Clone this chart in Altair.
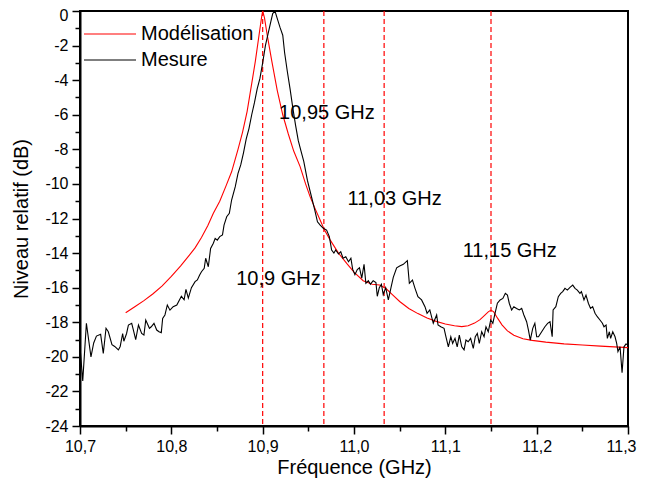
import altair as alt
import pandas as pd

# ---- measured spectrum (GHz, dB) ----
mes_f = [10.700, 10.703, 10.707, 10.712, 10.715, 10.718, 10.7226, 10.7255, 10.7285, 10.731,
         10.735, 10.738, 10.742, 10.744, 10.7467, 10.748, 10.751, 10.753, 10.7566, 10.758,
         10.761, 10.764, 10.7675, 10.770, 10.772, 10.776, 10.778, 10.781, 10.784, 10.7865,
         10.789, 10.7905, 10.793, 10.7956, 10.7985, 10.802, 10.806, 10.809, 10.811, 10.814,
         10.816, 10.8186, 10.822, 10.826, 10.8285, 10.831, 10.833, 10.836, 10.8376, 10.8405,
         10.843, 10.846, 10.848, 10.8503, 10.853, 10.856, 10.8577, 10.8606, 10.8635, 10.866,
         10.870, 10.873, 10.876, 10.879, 10.882, 10.885, 10.888, 10.891, 10.894, 10.897,
         10.900, 10.903, 10.906, 10.909, 10.911, 10.9135, 10.9155, 10.919, 10.922, 10.924,
         10.927, 10.930, 10.933, 10.936, 10.939, 10.942, 10.945, 10.949, 10.9537, 10.957,
         10.960, 10.963, 10.9664, 10.970, 10.973, 10.9755, 10.978, 10.980, 10.983, 10.9855,
         10.988, 10.991, 10.994, 10.9966, 10.9985, 11.001, 11.0036, 11.006, 11.0085, 11.011,
         11.013, 11.0157, 11.018, 11.021, 11.024, 11.0255, 11.0277, 11.030, 11.032, 11.0347,
         11.0376, 11.0405, 11.043, 11.0467, 11.050, 11.054, 11.0584, 11.0606, 11.064, 11.0668,
         11.070, 11.074, 11.0777, 11.080, 11.083, 11.0868, 11.0905, 11.092, 11.095, 11.0986,
         11.1007, 11.1033, 11.106, 11.108, 11.1106, 11.113, 11.1153, 11.118, 11.1205, 11.1226,
         11.125, 11.1277, 11.1306, 11.1328, 11.135, 11.1372, 11.1398, 11.1424, 11.1445, 11.147,
         11.1497, 11.152, 11.1544, 11.157, 11.160, 11.163, 11.1657, 11.168, 11.170, 11.1726,
         11.175, 11.178, 11.181, 11.1836, 11.186, 11.189, 11.191, 11.193, 11.1957, 11.198,
         11.200, 11.202, 11.2055, 11.209, 11.212, 11.2146, 11.217, 11.218, 11.221, 11.2237,
         11.2263, 11.2285, 11.231, 11.2336, 11.2365, 11.2395, 11.242, 11.2445, 11.2474, 11.249,
         11.2518, 11.254, 11.2566, 11.259, 11.2613, 11.2639, 11.2664, 11.2693, 11.272, 11.2737,
         11.276, 11.2774, 11.2796, 11.281, 11.2833, 11.2858, 11.2876, 11.289, 11.2913, 11.2935,
         11.2956, 11.2978, 11.300]
mes_db = [-19.4, -21.4, -18.06, -20.0, -19.2, -18.8, -18.7, -19.8, -18.35, -18.55,
          -19.3, -19.4, -19.6, -19.4, -18.65, -19.1, -18.65, -18.16, -18.06, -18.35,
          -19.0, -18.16, -18.65, -18.74, -17.87, -18.35, -18.26, -18.06, -18.45, -18.55,
          -18.6, -17.78, -17.58, -17.0, -17.3, -17.1, -17.0, -16.7, -16.5, -16.7,
          -16.1, -16.6, -16.0, -15.65, -15.55, -15.27, -15.08, -14.88, -14.3, -14.79,
          -13.73, -13.43, -13.15, -13.25, -13.05, -12.95, -12.38, -11.9, -11.7, -10.93,
          -10.16, -9.39, -8.9, -8.2, -7.4, -6.8, -6.0, -5.3, -4.5, -3.9,
          -3.0, -2.0, -1.3, -0.6, -0.15, 0.0, -0.35, -0.95, -1.4, -2.4,
          -3.5, -4.5, -5.6, -6.6, -7.5, -8.1, -8.7, -9.8, -10.8, -11.5,
          -12.19, -12.38, -12.57, -12.67, -13.05, -13.82, -14.0, -13.82, -14.05, -13.92,
          -14.3, -14.21, -14.5, -14.3, -14.93, -15.25, -14.95, -14.85, -15.45, -14.65,
          -15.75, -15.6, -15.8, -15.6, -15.7, -16.5, -16.0, -15.8, -16.4, -16.0,
          -16.7, -16.0, -15.4, -14.85, -14.75, -14.65, -14.44, -15.75, -15.56, -16.04,
          -16.52, -16.71, -17.1, -17.48, -17.29, -18.06, -17.58, -18.16, -18.26, -18.35,
          -18.84, -19.42, -18.84, -19.22, -18.93, -19.42, -18.74, -19.42, -19.6, -19.03,
          -19.13, -18.93, -19.51, -18.84, -18.65, -19.22, -18.55, -18.84, -18.26, -18.55,
          -17.87, -18.06, -17.48, -16.9, -16.71, -16.62, -16.33, -16.43, -16.9, -17.29,
          -17.1, -17.2, -17.29, -17.2, -17.58, -17.97, -18.45, -19.03, -18.35, -18.06,
          -18.84, -18.84, -18.55, -18.26, -18.06, -17.97, -18.84, -17.29, -17.1, -16.52,
          -16.33, -16.23, -16.04, -16.14, -15.98, -15.85, -16.04, -16.14, -16.33, -16.23,
          -16.71, -16.43, -16.9, -17.2, -17.1, -17.48, -17.68, -17.87, -18.06, -18.26,
          -18.16, -18.93, -18.55, -18.93, -18.55, -18.84, -19.22, -19.7, -19.42, -20.92,
          -19.42, -19.26, -19.32]

# ---- model (GHz, dB) ----
mod_f = [10.750, 10.760, 10.770, 10.780, 10.790, 10.800, 10.810, 10.820, 10.826, 10.833,
         10.840, 10.846, 10.853, 10.860, 10.866, 10.873, 10.878, 10.883, 10.888, 10.892,
         10.896, 10.899, 10.900, 10.902, 10.905, 10.910, 10.916, 10.922, 10.928, 10.934,
         10.941, 10.947, 10.952, 10.958, 10.963, 10.968, 10.974, 10.983, 10.992, 11.000,
         11.010, 11.020, 11.028, 11.035, 11.042, 11.050, 11.060, 11.070, 11.080, 11.090,
         11.100, 11.110, 11.118, 11.125, 11.132, 11.138, 11.143, 11.147, 11.150, 11.153,
         11.157, 11.162, 11.168, 11.175, 11.185, 11.195, 11.210, 11.230, 11.250, 11.270,
         11.300]
mod_db = [-17.45, -17.1, -16.75, -16.35, -15.9, -15.35, -14.75, -14.1, -13.7, -13.1,
          -12.4, -11.7, -11.0, -10.1, -9.3, -8.0, -7.0, -5.8, -4.2, -2.9,
          -1.4, -0.3, 0.0, -0.4, -1.4, -2.9, -4.6, -6.0, -7.1, -8.1,
          -9.0, -10.0, -10.75, -11.5, -12.1, -12.7, -13.25, -14.0, -14.6, -15.1,
          -15.6, -15.8, -15.85, -16.05, -16.4, -16.8, -17.2, -17.5, -17.75, -17.95,
          -18.1, -18.2, -18.25, -18.2, -18.05, -17.85, -17.6, -17.4, -17.3, -17.4,
          -17.75, -18.15, -18.5, -18.75, -18.95, -19.05, -19.15, -19.25, -19.32, -19.38,
          -19.47]

series_names = ["Modélisation", "Mesure"]
series_colors = ["#ff0000", "#000000"]

marker_f = [10.9, 10.967, 11.033, 11.15]

ann_text = ["10,95 GHz", "11,03 GHz", "11,15 GHz", "10,9 GHz"]
ann_f = [10.918, 10.993, 11.119, 10.871]
ann_db = [-5.9, -10.88, -13.88, -15.5]

x_ticks = [10.70, 10.75, 10.80, 10.85, 10.90, 10.95, 11.00, 11.05, 11.10, 11.15, 11.20, 11.25, 11.30]
y_ticks = [-24, -23, -22, -21, -20, -19, -18, -17, -16, -15, -14, -13, -12, -11, -10,
           -9, -8, -7, -6, -5, -4, -3, -2, -1, 0]

FONT = "Liberation Sans"

lines_df = pd.DataFrame({
    "f": mod_f + mes_f,
    "db": mod_db + mes_db,
    "s": [series_names[0]] * len(mod_f) + [series_names[1]] * len(mes_f),
})
markers_df = pd.DataFrame({"f": marker_f})
ann_df = pd.DataFrame({"f": ann_f, "db": ann_db, "t": ann_text})

x_major = "abs(datum.value*10 - round(datum.value*10)) < 0.001"
x_axis = alt.Axis(
    values=x_ticks,
    title="Fréquence (GHz)",
    labelExpr=f"({x_major}) ? replace(format(datum.value, '.1f'), '.', ',') : ''",
    tickSize={"condition": {"test": x_major, "value": 8}, "value": 5},
    labelOffset={"condition": {"test": "datum.value > 11.29", "value": -7}, "value": 0},
    grid=False,
    labelFlush=False,
    labelFontSize=16,
    labelPadding=4,
    titleFontSize=20,
    titleFontWeight="normal",
    titlePadding=3,
)
y_axis = alt.Axis(
    values=y_ticks,
    title="Niveau relatif (dB)",
    labelExpr="datum.value % 2 == 0 ? '' + datum.value : ''",
    tickSize={"condition": {"test": "datum.value % 2 == 0", "value": 8}, "value": 5},
    labelOffset={"condition": {"test": "datum.value == 0", "value": 4}, "value": 0},
    grid=False,
    labelFlush=False,
    labelFontSize=16,
    labelPadding=4,
    titleFontSize=20,
    titleFontWeight="normal",
    titlePadding=13,
)

X = alt.X("f:Q", scale=alt.Scale(domain=[10.7, 11.3], nice=False, zero=False), axis=x_axis)
Y = alt.Y("db:Q", scale=alt.Scale(domain=[-24, 0], nice=False, zero=False), axis=y_axis)

lines = alt.Chart(lines_df).mark_line(strokeWidth=1.1).encode(
    x=X,
    y=Y,
    color=alt.Color(
        "s:N",
        scale=alt.Scale(domain=series_names, range=series_colors),
        legend=alt.Legend(
            orient="none", legendX=3, legendY=13, title=None,
            labelFontSize=20, labelFont=FONT, symbolType="stroke",
            symbolSize=2704, symbolStrokeWidth=1.2, clipHeight=20,
            rowPadding=6, labelOffset=4, padding=0,
        ),
    ),
    detail="s:N",
)

rules = alt.Chart(markers_df).mark_rule(color="#ff0000", strokeDash=[5, 3], strokeWidth=1.2).encode(x=X)

texts = alt.Chart(ann_df).mark_text(align="left", baseline="middle", fontSize=20, font=FONT, color="black").encode(
    x=X, y=Y, text="t:N"
)

chart = alt.layer(rules, lines, texts).properties(
    width=548,
    height=415,
    autosize=alt.AutoSizeParams(type="none"),
    padding={"left": 72, "top": 3, "right": 9, "bottom": 55},
).configure(font=FONT).configure_view(
    stroke="black", strokeWidth=2
).configure_axis(
    domainColor="black", domainWidth=2, tickColor="black", tickWidth=1.5,
    labelColor="black", titleColor="black", labelFont=FONT, titleFont=FONT,
)

chart.save("out.html", embed_options={"renderer": "svg", "actions": False})
